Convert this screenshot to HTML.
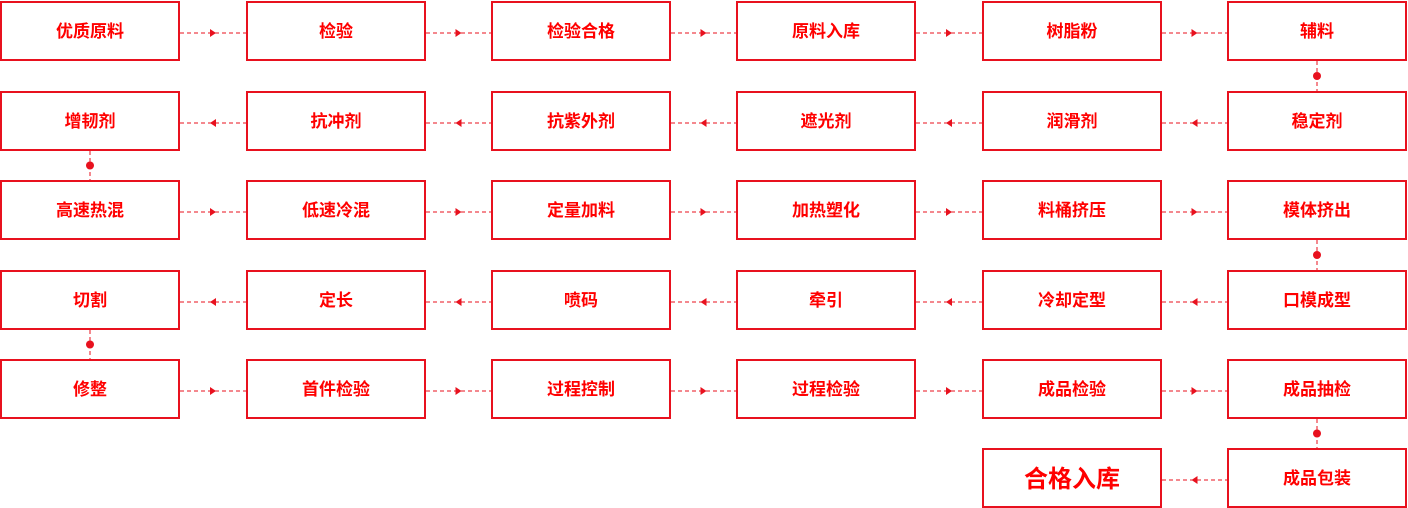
<!DOCTYPE html>
<html><head><meta charset="utf-8"><style>
body{margin:0;width:1408px;height:508px;background:#fff;position:relative;overflow:hidden;font-family:"Liberation Sans","Noto Sans CJK SC",sans-serif}
.b{position:absolute;box-sizing:border-box;width:180px;height:60px;border:2px solid #e8111e;color:#f00;font-weight:bold;font-size:17px;display:flex;align-items:center;justify-content:center;padding-bottom:3px}
svg{position:absolute;left:0;top:0}
</style></head><body>
<svg width="1408" height="508" id="s"></svg>
<div id="c"></div>
<script>
const X=[0,246,491,736,982,1227],Y=[1,91,180,270,359,448];
const rows=[
["优质原料","检验","检验合格","原料入库","树脂粉","辅料"],
["增韧剂","抗冲剂","抗紫外剂","遮光剂","润滑剂","稳定剂"],
["高速热混","低速冷混","定量加料","加热塑化","料桶挤压","模体挤出"],
["切割","定长","喷码","牵引","冷却定型","口模成型"],
["修整","首件检验","过程控制","过程检验","成品检验","成品抽检"],
[null,null,null,null,"合格入库","成品包装"]];
let h="",s="";
rows.forEach((r,i)=>r.forEach((t,j)=>{if(t){h+=`<div class="b" style="left:${X[j]}px;top:${Y[i]}px;${t=="合格入库"?"font-size:24px":""}">${t}</div>`}}));
document.getElementById("c").innerHTML=h;
const R="#e8111e";
for(let i=0;i<6;i++){
 const y=Y[i]+32;
 for(let j=0;j<5;j++){
  if(i==5&&j<4)continue;
  const x1=X[j]+180,x2=X[j+1],m=(x1+x2)/2;
  s+=`<line x1="${x1}" y1="${y}" x2="${x2}" y2="${y}" stroke="${R}" stroke-width="1" stroke-dasharray="4,3"/>`;
  const right=(i%2==0)&&i!=5;
  s+=right?`<polygon points="${m-3},${y-4} ${m+3},${y} ${m-3},${y+4}" fill="${R}"/>`:`<polygon points="${m+3},${y-4} ${m-3},${y} ${m+3},${y+4}" fill="${R}"/>`;
 }
 if(i<5){
  const x=(i%2==0)?X[5]+90:X[0]+90,y1=Y[i]+60,y2=Y[i+1];
  s+=`<line x1="${x}" y1="${y1}" x2="${x}" y2="${y2}" stroke="${R}" stroke-width="1" stroke-dasharray="4,3"/><circle cx="${x}" cy="${(y1+y2)/2}" r="4" fill="${R}"/>`;
 }
}
document.getElementById("s").innerHTML=s;
</script>
</body></html>
